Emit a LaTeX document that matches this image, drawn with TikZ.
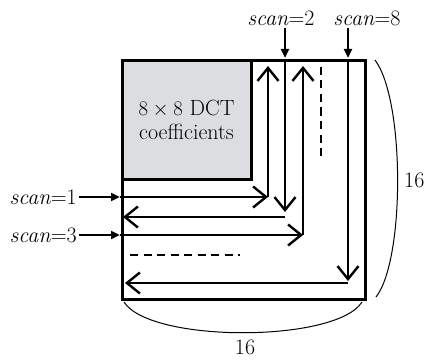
\documentclass[tikz,border=0pt]{standalone}
\usetikzlibrary{arrows.meta}
\definecolor{dctgray}{RGB}{220,221,224}
\begin{document}
\begin{tikzpicture}[x=1pt,y=-1pt,
  every node/.style={font=\fontsize{22}{25}\selectfont,inner sep=2pt},
  barb/.style={line width=2.4pt,-{Straight Barb[length=13pt,width=21pt]}},
  feed/.style={line width=2.4pt,-{Triangle[length=9pt,width=8pt]}},
  dots/.style={line width=2pt,dash pattern=on 8pt off 5.5pt}]
  \useasboundingbox (0,0) rectangle (426,361);
  % block and the 8x8 corner
  \draw[line width=3pt] (122,61) rectangle (365,299);
  \node (dct) [draw,line width=3pt,fill=dctgray,minimum width=129pt,minimum height=118pt,align=center,
    inner sep=0pt] at (186.5,120) {$8\times 8$ DCT\\[-1pt]coefficients};
  % labels
  \node (s1) [anchor=east] at (79,197) {\textit{scan}=1};
  \node (s3) [anchor=east] at (79,235) {\textit{scan}=3};
  \node (s2) at (281,18) {\textit{scan}=2};
  \node (s8) at (367,18) {\textit{scan}=8};
  \node (w) [anchor=west,inner sep=0pt] at (404,180) {16};
  \node (h) at (245,347) {16};
  % entry points on the block
  \coordinate (in1) at (120,197);
  \coordinate (in3) at (120,235);
  \coordinate (in2) at (285,58);
  \coordinate (in8) at (348,58);
  \draw[feed] (s1.east) -- (in1);
  \draw[feed] (s3.east) -- (in3);
  \draw[feed] (s2.south -| in2) -- (in2);
  \draw[feed] (s8.south -| in8) -- (in8);
  % scan lines
  \coordinate (c1) at (268,197);
  \coordinate (c2) at (285,217);
  \coordinate (c3) at (303,235);
  \coordinate (c8) at (348,283);
  \draw[barb] (in1) -- (c1);
  \draw[barb] (c1) -- (268,66);
  \draw[barb] (285,62) -- (285,212);
  \draw[barb] (c2) -- (123,217);
  \draw[barb] (in3) -- (c3);
  \draw[barb] (c3) -- (303,66);
  \draw[barb] (348,62) -- (348,281);
  \draw[barb] (c8) -- (125,283);
  \draw[dots] (321,67) -- (321,160);
  \draw[dots] (130,255) -- (240,255);
  % braces
  \draw[line width=1pt] (375,60) .. controls (405,100) and (405,260) .. (376,297);
  \draw[line width=1pt] (124,302) .. controls (150,343) and (336,343) .. (362,302);
\end{tikzpicture}
\end{document}
